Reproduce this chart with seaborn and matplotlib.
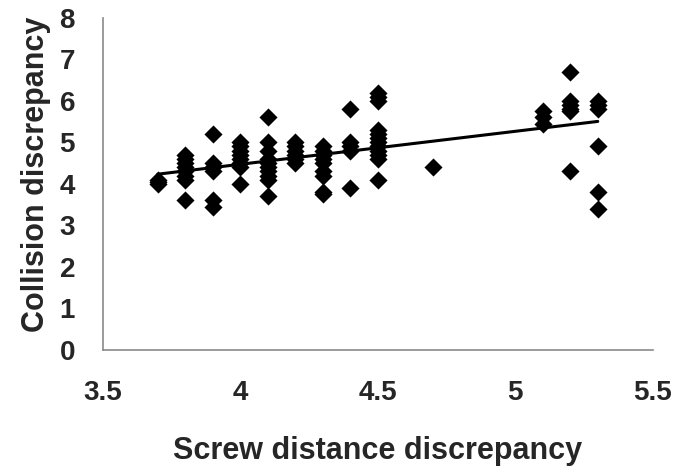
import matplotlib
matplotlib.use("Agg")
import matplotlib.pyplot as plt
import seaborn as sns
import pandas as pd

# screw distance discrepancy groups and the collision discrepancy read per group
x_groups = [3.7, 3.8, 3.9, 4.0, 4.1, 4.2, 4.3, 4.4, 4.5, 4.7, 5.1, 5.2, 5.3]
y_groups = [
    [4.0, 4.05, 4.1],
    [4.7, 4.6, 4.5, 4.4, 4.3, 4.2, 4.1, 3.6],
    [5.2, 4.5, 4.4, 4.3, 3.6, 3.45],
    [5.0, 4.9, 4.8, 4.7, 4.6, 4.5, 4.4, 4.0],
    [5.6, 5.0, 4.8, 4.6, 4.5, 4.4, 4.3, 4.2, 4.1, 3.7],
    [5.0, 4.9, 4.8, 4.7, 4.6, 4.5],
    [4.9, 4.8, 4.7, 4.6, 4.5, 4.3, 4.2, 3.8, 3.75],
    [5.8, 5.0, 4.9, 4.8, 3.9],
    [6.2, 6.1, 6.0, 5.3, 5.2, 5.1, 5.0, 4.9, 4.8, 4.7, 4.6, 4.1],
    [4.4],
    [5.75, 5.6, 5.45],
    [6.7, 6.0, 5.9, 5.8, 5.75, 4.3],
    [6.0, 5.9, 5.8, 4.9, 3.8, 3.4],
]
x_ticks = [3.5, 4, 4.5, 5, 5.5]
y_ticks = [0, 1, 2, 3, 4, 5, 6, 7, 8]

rows = []
for xv, ys in zip(x_groups, y_groups):
    for yv in ys:
        rows.append((xv, yv))
df = pd.DataFrame(rows, columns=["screw", "collision"])

sns.set_style("white")
plt.rcParams["font.family"] = ["Liberation Sans", "DejaVu Sans"]
plt.rcParams["font.weight"] = "bold"

fig = plt.figure(figsize=(6.9, 4.69), dpi=100)
ax = fig.add_axes([0.149, 0.254, 0.797, 0.708])

sns.regplot(data=df, x="screw", y="collision", ax=ax, ci=None, marker="D",
            color="black",
            scatter_kws={"s": 85, "linewidths": 0, "alpha": 1},
            line_kws={"linewidth": 2.2})

ax.set_xlim(3.5, 5.5)
ax.set_ylim(0, 8)
ax.set_xticks(x_ticks)
ax.set_xticklabels(["3.5", "4", "4.5", "5", "5.5"])
ax.set_yticks(y_ticks)

for s in ["top", "right"]:
    ax.spines[s].set_visible(False)
for s in ["left", "bottom"]:
    ax.spines[s].set_color("#8a8a8a")
    ax.spines[s].set_linewidth(1.2)

ax.tick_params(axis="x", direction="in", length=6, width=1, color="#8a8a8a",
               pad=22, labelsize=20)
ax.tick_params(axis="y", direction="in", length=8, width=1, color="#8a8a8a",
               pad=20, labelsize=20)
for lab in ax.get_xticklabels() + ax.get_yticklabels():
    lab.set_fontweight("bold")

ax.set_xlabel("Screw distance discrepancy", fontsize=22, fontweight="bold")
ax.set_ylabel("Collision discrepancy", fontsize=22, fontweight="bold")
ax.xaxis.set_label_coords(0.5, -0.26)
ax.yaxis.set_label_coords(-0.095, 0.53)

fig.savefig("out.png", dpi=100)
